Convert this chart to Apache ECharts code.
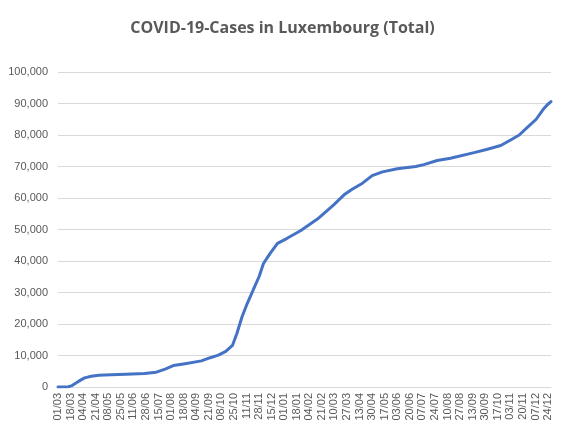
<!DOCTYPE html>
<html>
<head>
<meta charset="utf-8">
<script src="https://cdn.jsdelivr.net/npm/echarts@6/dist/echarts.min.js"></script>
<style>
  html, body { margin: 0; padding: 0; background: #fff; }
  #chart { width: 565px; height: 432px; }
</style>
</head>
<body>
<div id="chart"></div>
<script>
// first and last day on the axis
const startDate = '2020-03-01';
const endDate = '2021-12-28';

// readings of the total curve
const sampleDates = [
  '2020-03-01', '2020-03-15', '2020-03-19', '2020-03-28', '2020-04-06', '2020-04-15',
  '2020-04-25', '2020-05-12', '2020-06-01', '2020-06-26', '2020-07-12', '2020-07-24',
  '2020-08-04', '2020-08-20', '2020-09-11', '2020-09-23', '2020-10-04', '2020-10-14',
  '2020-10-23', '2020-10-29', '2020-11-05', '2020-11-12', '2020-11-21', '2020-11-28',
  '2020-12-04', '2020-12-13', '2020-12-23', '2021-01-05', '2021-01-23', '2021-02-15',
  '2021-03-09', '2021-03-23', '2021-04-03', '2021-04-17', '2021-04-30', '2021-05-14',
  '2021-06-03', '2021-06-28', '2021-07-09', '2021-07-27', '2021-08-14', '2021-09-15',
  '2021-10-03', '2021-10-21', '2021-11-04', '2021-11-15', '2021-11-26', '2021-12-08',
  '2021-12-17', '2021-12-23', '2021-12-28'
];
const totalCases = [
  0, 100, 350, 1700, 2900, 3400,
  3700, 3900, 4050, 4250, 4700, 5700,
  6800, 7400, 8300, 9300, 10100, 11300,
  13200, 17000, 22300, 26500, 31300, 35000,
  39200, 42400, 45600, 47200, 49600, 53300,
  57800, 61000, 62800, 64700, 67100, 68300,
  69300, 70000, 70600, 71900, 72600, 74400,
  75500, 76650, 78500, 80000, 82400, 85000,
  88000, 89600, 90600
];

const yMax = 100000;
const yStep = 10000;
const labelEvery = 17; // days between x labels

function pad(n) { return n < 10 ? '0' + n : '' + n; }

// one category per day
const days = [];
const dayLabels = [];
for (let d = new Date(startDate + 'T00:00:00Z'); d <= new Date(endDate + 'T00:00:00Z'); d.setUTCDate(d.getUTCDate() + 1)) {
  days.push(d.toISOString().slice(0, 10));
  dayLabels.push(pad(d.getUTCDate()) + '/' + pad(d.getUTCMonth() + 1));
}

const seriesData = days.map(() => null);
sampleDates.forEach((s, i) => {
  const idx = days.indexOf(s);
  if (idx >= 0) seriesData[idx] = totalCases[i];
});

const chart = echarts.init(document.getElementById('chart'));
chart.setOption({
  animation: false,
  backgroundColor: '#ffffff',
  title: {
    text: 'COVID-19-Cases in Luxembourg (Total)',
    left: 'center',
    top: 15,
    textStyle: {
      fontFamily: 'Open Sans',
      fontWeight: 'bold',
      fontSize: 16,
      color: '#595959'
    }
  },
  grid: { left: 58, right: 14, top: 72, bottom: 45 },
  xAxis: {
    type: 'category',
    data: dayLabels,
    boundaryGap: false,
    axisLine: { lineStyle: { color: '#d9d9d9', width: 1 } },
    axisTick: { show: false },
    axisLabel: {
      interval: labelEvery - 1,
      rotate: 90,
      margin: 6,
      fontFamily: 'Liberation Sans',
      fontSize: 11,
      color: '#595959'
    },
    splitLine: { show: false }
  },
  yAxis: {
    type: 'value',
    min: 0,
    max: yMax,
    interval: yStep,
    axisLine: { show: false },
    axisTick: { show: false },
    axisLabel: {
      margin: 10,
      fontFamily: 'Liberation Sans',
      fontSize: 11,
      color: '#595959',
      formatter: v => v.toLocaleString('en-US')
    },
    splitLine: { lineStyle: { color: '#d9d9d9', width: 1 } }
  },
  series: [{
    type: 'line',
    data: seriesData,
    connectNulls: true,
    showSymbol: false,
    symbol: 'none',
    lineStyle: { color: '#4472c4', width: 3, cap: 'round', join: 'round' }
  }]
});
</script>
</body>
</html>
